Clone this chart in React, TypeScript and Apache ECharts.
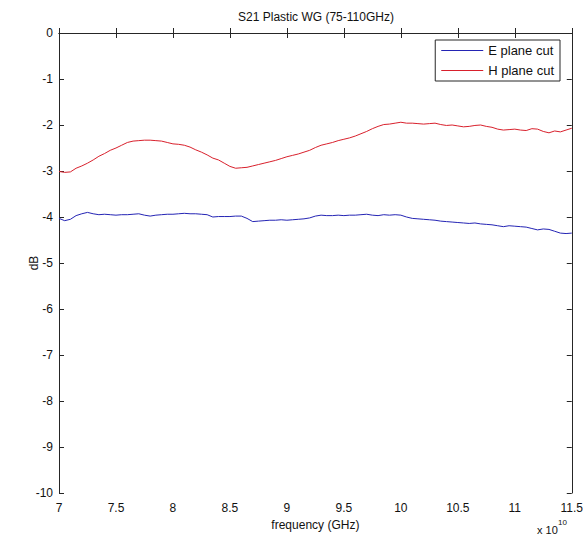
import React, { useEffect, useRef } from "react";
import * as echarts from "echarts";

const freq = [
  7.0, 7.05, 7.1, 7.15, 7.2, 7.25, 7.3, 7.35, 7.4, 7.45,
  7.5, 7.55, 7.6, 7.65, 7.7, 7.75, 7.8, 7.85, 7.9, 7.95,
  8.0, 8.05, 8.1, 8.15, 8.2, 8.25, 8.3, 8.35, 8.4, 8.45,
  8.5, 8.55, 8.6, 8.65, 8.7, 8.75, 8.8, 8.85, 8.9, 8.95,
  9.0, 9.05, 9.1, 9.15, 9.2, 9.25, 9.3, 9.35, 9.4, 9.45,
  9.5, 9.55, 9.6, 9.65, 9.7, 9.75, 9.8, 9.85, 9.9, 9.95,
  10.0, 10.05, 10.1, 10.15, 10.2, 10.25, 10.3, 10.35, 10.4, 10.45,
  10.5, 10.55, 10.6, 10.65, 10.7, 10.75, 10.8, 10.85, 10.9, 10.95,
  11.0, 11.05, 11.1, 11.15, 11.2, 11.25, 11.3, 11.35, 11.4, 11.45,
  11.5,
];

const ePlane = [
  -4.03, -4.08, -4.05, -3.97, -3.93, -3.9, -3.93, -3.95, -3.94, -3.95,
  -3.96, -3.95, -3.95, -3.94, -3.93, -3.96, -3.98, -3.96, -3.95, -3.94,
  -3.94, -3.93, -3.92, -3.93, -3.93, -3.94, -3.95, -4.0, -3.99, -3.99,
  -3.99, -3.98, -3.98, -4.03, -4.1, -4.09, -4.08, -4.07, -4.07, -4.06,
  -4.07, -4.06, -4.05, -4.04, -4.02, -3.98, -3.96, -3.97, -3.97, -3.96,
  -3.97, -3.96, -3.96, -3.95, -3.94, -3.96, -3.97, -3.95, -3.96, -3.95,
  -3.96, -4.0, -4.03, -4.04, -4.05, -4.06, -4.07, -4.09, -4.1, -4.11,
  -4.12, -4.13, -4.14, -4.13, -4.15, -4.16, -4.17, -4.19, -4.21, -4.19,
  -4.2, -4.21, -4.22, -4.25, -4.28, -4.26, -4.27, -4.31, -4.35, -4.36,
  -4.35,
];

const hPlane = [
  -3.01, -3.03, -3.02, -2.94, -2.89, -2.83, -2.76, -2.68, -2.62, -2.55,
  -2.5, -2.44, -2.38, -2.35, -2.34, -2.33, -2.33, -2.34, -2.35, -2.38,
  -2.41, -2.42, -2.44, -2.48, -2.54, -2.59, -2.65, -2.72, -2.76, -2.83,
  -2.9, -2.94, -2.93, -2.92, -2.89, -2.86, -2.83, -2.8, -2.77, -2.73,
  -2.69, -2.66, -2.63, -2.59, -2.55, -2.49, -2.44, -2.41, -2.38, -2.34,
  -2.31, -2.28, -2.24, -2.19, -2.14, -2.08, -2.03, -1.99, -1.98, -1.96,
  -1.94, -1.96, -1.96, -1.97, -1.98, -1.97, -1.96, -1.99, -2.01, -2.0,
  -2.02, -2.04, -2.03, -2.01, -2.0, -2.03, -2.05, -2.09, -2.11, -2.1,
  -2.09, -2.11, -2.12, -2.08, -2.09, -2.14, -2.17, -2.13, -2.15, -2.11,
  -2.07,
];

const seriesNames = ["E plane cut", "H plane cut"];
const titleText = "S21 Plastic WG (75-110GHz)";
const xName = "frequency (GHz)";
const yName = "dB";

const FONT = "Liberation Sans, Arial, Helvetica, sans-serif";
const AXIS = "#262626";
const BLUE = "#2424b4";
const RED = "#d8202c";

export default function App() {
  const ref = useRef<HTMLDivElement>(null);

  useEffect(() => {
    document.body.style.margin = "0";
    const chart = echarts.init(ref.current!, null, { renderer: "svg" });
    const axisCommon = {
      type: "value" as const,
      axisLine: { show: true, lineStyle: { color: AXIS, width: 1 } },
      axisTick: { show: true, inside: true, length: 5, lineStyle: { color: AXIS } },
      splitLine: { show: false },
    };
    chart.setOption({
      animation: false,
      backgroundColor: "#ffffff",
      textStyle: { fontFamily: FONT },
      grid: { left: 59, right: 13, top: 33, bottom: 45 },
      graphic: [
        {
          type: "text",
          x: 316,
          y: 17,
          style: {
            text: titleText,
            font: `12px ${FONT}`,
            fill: "#111",
            textAlign: "center",
            textVerticalAlign: "middle",
          },
        },
        {
          type: "text",
          x: 537,
          y: 530,
          style: {
            text: "x 10",
            font: `11px ${FONT}`,
            fill: "#111",
            textAlign: "left",
            textVerticalAlign: "middle",
          },
        },
        {
          type: "text",
          x: 558,
          y: 522,
          style: {
            text: "10",
            font: `8px ${FONT}`,
            fill: "#111",
            textAlign: "left",
            textVerticalAlign: "middle",
          },
        },
      ],
      legend: {
        orient: "vertical",
        right: 26,
        top: 40,
        data: seriesNames.map((n, i) => ({
          name: n,
          icon: "rect",
          itemStyle: { color: i === 0 ? BLUE : RED },
        })),
        backgroundColor: "#ffffff",
        borderColor: AXIS,
        borderWidth: 1,
        borderRadius: 0,
        padding: [3, 6, 3, 6],
        itemWidth: 42,
        itemHeight: 1,
        itemGap: 5,
        textStyle: { fontSize: 13, color: "#111", fontFamily: FONT, lineHeight: 15 },
      },
      xAxis: [
        {
          ...axisCommon,
          position: "bottom",
          min: 7,
          max: 11.5,
          interval: 0.5,
          name: xName,
          nameLocation: "middle",
          nameGap: 26,
          nameMoveOverlap: false,
          nameTextStyle: { fontSize: 12, color: "#111", fontFamily: FONT },
          axisLabel: { fontSize: 12, color: "#111", margin: 9, fontFamily: FONT },
        },
        {
          ...axisCommon,
          position: "top",
          min: 7,
          max: 11.5,
          interval: 0.5,
          axisLabel: { show: false },
        },
      ],
      yAxis: [
        {
          ...axisCommon,
          position: "left",
          min: -10,
          max: 0,
          interval: 1,
          name: yName,
          nameLocation: "middle",
          nameGap: 19,
          nameMoveOverlap: false,
          nameTextStyle: { fontSize: 12, color: "#111", fontFamily: FONT },
          axisLabel: { fontSize: 12, color: "#111", margin: 6, fontFamily: FONT },
        },
        {
          ...axisCommon,
          position: "right",
          min: -10,
          max: 0,
          interval: 1,
          axisLabel: { show: false },
        },
      ],
      series: [
        {
          name: seriesNames[0],
          type: "line",
          xAxisIndex: 0,
          yAxisIndex: 0,
          symbol: "none",
          showSymbol: false,
          data: freq.map((f, i) => [f, ePlane[i]]),
          lineStyle: { color: BLUE, width: 1 },
          itemStyle: { color: BLUE },
        },
        {
          name: seriesNames[1],
          type: "line",
          xAxisIndex: 0,
          yAxisIndex: 0,
          symbol: "none",
          showSymbol: false,
          data: freq.map((f, i) => [f, hPlane[i]]),
          lineStyle: { color: RED, width: 1 },
          itemStyle: { color: RED },
        },
      ],
    });
    return () => chart.dispose();
  }, []);

  return <div ref={ref} style={{ width: 586, height: 538 }} />;
}
